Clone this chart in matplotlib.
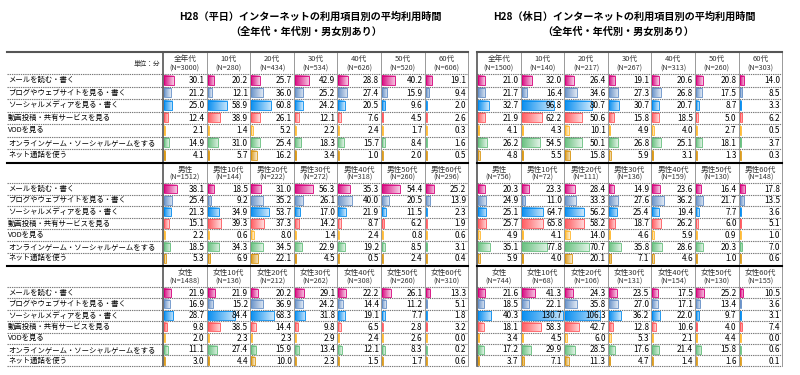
import numpy as np
import matplotlib.pyplot as plt
import matplotlib.colors as mcolors
from matplotlib.patches import Rectangle

plt.rcParams['font.family'] = ['Noto Sans CJK JP', 'DejaVu Sans']

# row labels
items = ['メールを読む・書く', 'ブログやウェブサイトを見る・書く', 'ソーシャルメディアを見る・書く',
         '動画投稿・共有サービスを見る', 'VODを見る', 'オンラインゲーム・ソーシャルゲームをする',
         'ネット通話を使う']

groups_all = ['全年代', '10代', '20代', '30代', '40代', '50代', '60代']
groups_male = ['男性', '男性10代', '男性20代', '男性30代', '男性40代', '男性50代', '男性60代']
groups_female = ['女性', '女性10代', '女性20代', '女性30代', '女性40代', '女性50代', '女性60代']

# weekday (平日) sample sizes
wd_n_all = [3000, 280, 434, 534, 626, 520, 606]
wd_n_male = [1512, 144, 222, 272, 318, 260, 296]
wd_n_female = [1488, 136, 212, 262, 308, 260, 310]
# holiday (休日) sample sizes
hd_n_all = [1500, 140, 217, 267, 313, 260, 303]
hd_n_male = [756, 72, 111, 136, 159, 130, 148]
hd_n_female = [744, 68, 106, 131, 154, 130, 155]

# minutes, rows = items, cols = groups
wd_all = [[30.1, 20.2, 25.7, 42.9, 28.8, 40.2, 19.1],
          [21.2, 12.1, 36.0, 25.2, 27.4, 15.9, 9.4],
          [25.0, 58.9, 60.8, 24.2, 20.5, 9.6, 2.0],
          [12.4, 38.9, 26.1, 12.1, 7.6, 4.5, 2.6],
          [2.1, 1.4, 5.2, 2.2, 2.4, 1.7, 0.3],
          [14.9, 31.0, 25.4, 18.3, 15.7, 8.4, 1.6],
          [4.1, 5.7, 16.2, 3.4, 1.0, 2.0, 0.5]]
wd_male = [[38.1, 18.5, 31.0, 56.3, 35.3, 54.4, 25.2],
           [25.4, 9.2, 35.2, 26.1, 40.0, 20.5, 13.9],
           [21.3, 34.9, 53.7, 17.0, 21.9, 11.5, 2.3],
           [15.1, 39.3, 37.3, 14.2, 8.7, 6.2, 1.9],
           [2.2, 0.6, 8.0, 1.4, 2.4, 0.8, 0.6],
           [18.5, 34.3, 34.5, 22.9, 19.2, 8.5, 3.1],
           [5.3, 6.9, 22.1, 4.5, 0.5, 2.4, 0.4]]
wd_female = [[21.9, 21.9, 20.2, 29.1, 22.2, 26.1, 13.3],
             [16.9, 15.2, 36.9, 24.2, 14.4, 11.2, 5.1],
             [28.7, 84.4, 68.3, 31.8, 19.1, 7.7, 1.8],
             [9.8, 38.5, 14.4, 9.8, 6.5, 2.8, 3.2],
             [2.0, 2.3, 2.3, 2.9, 2.4, 2.6, 0.0],
             [11.1, 27.4, 15.9, 13.4, 12.1, 8.3, 0.2],
             [3.0, 4.4, 10.0, 2.3, 1.5, 1.7, 0.6]]
hd_all = [[21.0, 32.0, 26.4, 19.1, 20.6, 20.8, 14.0],
          [21.7, 16.4, 34.6, 27.3, 26.8, 17.5, 8.5],
          [32.7, 96.8, 80.7, 30.7, 20.7, 8.7, 3.3],
          [21.9, 62.2, 50.6, 15.8, 18.5, 5.0, 6.2],
          [4.1, 4.3, 10.1, 4.9, 4.0, 2.7, 0.5],
          [26.2, 54.5, 50.1, 26.8, 25.1, 18.1, 3.7],
          [4.8, 5.5, 15.8, 5.9, 3.1, 1.3, 0.3]]
hd_male = [[20.3, 23.3, 28.4, 14.9, 23.6, 16.4, 17.8],
           [24.9, 11.0, 33.3, 27.6, 36.2, 21.7, 13.5],
           [25.1, 64.7, 56.2, 25.4, 19.4, 7.7, 3.6],
           [25.7, 65.8, 58.2, 18.7, 26.2, 6.0, 5.1],
           [4.9, 4.1, 14.0, 4.6, 5.9, 0.9, 1.0],
           [35.1, 77.8, 70.7, 35.8, 28.6, 20.3, 7.0],
           [5.9, 4.0, 20.1, 7.1, 4.6, 1.0, 0.6]]
hd_female = [[21.6, 41.3, 24.3, 23.5, 17.5, 25.2, 10.5],
             [18.5, 22.1, 35.8, 27.0, 17.1, 13.4, 3.6],
             [40.3, 130.7, 106.3, 36.2, 22.0, 9.7, 3.1],
             [18.1, 58.3, 42.7, 12.8, 10.6, 4.0, 7.4],
             [3.4, 4.5, 6.0, 5.3, 2.1, 4.4, 0.0],
             [17.2, 29.9, 28.5, 17.6, 21.4, 15.8, 0.6],
             [3.7, 7.1, 11.3, 4.7, 1.4, 1.6, 0.1]]

# data bar colour per item
bar_colors = ['#D6007B', '#638EC6', '#008AEF', '#FF555A', '#FFB628', '#63BE7B', '#D9950F']

fig = plt.figure(figsize=(8, 3.75), dpi=100)
ax = fig.add_axes([0, 0, 1, 1])

# layout in pixels
sec_top = [52, 163, 266]
sec_head = [22, 20, 21]
sec_row = [12.5, 11.6, 11.4]
bottom = 366
colw = 43.6
px_per_min = 0.33


def grad_bar(x0, y0, w, h, color):
    # excel-style gradient data bar: solid colour on the left fading towards white
    rgb = np.array(mcolors.to_rgb(color))
    t = np.linspace(0.05, 0.8, 64)[None, :, None]
    img = rgb * (1 - t) + t
    img = np.repeat(img, 2, axis=0)
    ax.imshow(img, extent=(x0, x0 + w, y0 + h, y0), aspect='auto',
              interpolation='bilinear', zorder=2)
    ax.add_patch(Rectangle((x0, y0), w, h, fill=False, ec=color, lw=0.6, zorder=3))


def draw_table(x_left, x_data, sections, with_labels):
    x_right = x_data + colw * 7
    for s, (groups, ns, vals) in enumerate(sections):
        top = sec_top[s]
        hh = sec_head[s]
        rh = sec_row[s]
        # header texts
        for j, g in enumerate(groups):
            cx = x_data + colw * (j + 0.5)
            ax.text(cx, top + hh * 0.33, g, ha='center', va='center', fontsize=5.5, color='#333333')
            ax.text(cx, top + hh * 0.75, '(N=%d)' % ns[j], ha='center', va='center',
                    fontsize=5.2, color='#333333')
        if with_labels and s == 0:
            ax.text(x_data - 3, top + hh * 0.55, '単位：分', ha='right', va='center',
                    fontsize=4.8, color='#333333')
        # rows
        for i in range(len(items)):
            y0 = top + hh + rh * i
            yc = y0 + rh / 2
            if with_labels:
                ax.text(x_left + 1, yc, items[i], ha='left', va='center', fontsize=5.3, color='black')
            for j in range(7):
                v = vals[i][j]
                cx0 = x_data + colw * j
                w = min(max(v * px_per_min, 1.0), colw - 2)
                grad_bar(cx0 + 1, y0 + 1.6, w, rh - 3.2, bar_colors[i])
                ax.text(cx0 + colw - 2, yc + 0.3, '%.1f' % v, ha='right', va='center',
                        fontsize=5.9, color='black', zorder=4)
            # dotted separator above each row
            ax.plot([x_left, x_right], [y0, y0], color='#777777', lw=0.8,
                    ls=(0, (1.2, 0.8)), zorder=5)
        if s > 0:
            ax.plot([x_left, x_right], [top, top], color='black', lw=1.5, zorder=6)
    # top / bottom borders
    ax.plot([x_left, x_right], [sec_top[0], sec_top[0]], color='#555555', lw=1.5, zorder=6)
    ax.plot([x_left, x_right], [bottom, bottom], color='#777777', lw=0.8,
            ls=(0, (1.2, 0.8)), zorder=5)
    # vertical lines
    for j in range(8):
        x = x_data + colw * j
        lc = '#555555' if j == 0 else '#999999'
        lw = 1.2 if j == 0 else 0.7
        ax.plot([x, x], [sec_top[0], bottom], color=lc, lw=lw, zorder=5)


draw_table(7, 163, [(groups_all, wd_n_all, wd_all),
                    (groups_male, wd_n_male, wd_male),
                    (groups_female, wd_n_female, wd_female)], True)
draw_table(477, 477, [(groups_all, hd_n_all, hd_all),
                      (groups_male, hd_n_male, hd_male),
                      (groups_female, hd_n_female, hd_female)], False)

# titles
ax.text(310, 17, 'H28（平日）インターネットの利用項目別の平均利用時間', ha='center', va='center',
        fontsize=7.3, fontweight='bold')
ax.text(306, 32, '（全年代・年代別・男女別あり）', ha='center', va='center',
        fontsize=7.3, fontweight='bold')
ax.text(624, 17, 'H28（休日）インターネットの利用項目別の平均利用時間', ha='center', va='center',
        fontsize=7.3, fontweight='bold')
ax.text(618, 32, '（全年代・年代別・男女別あり）', ha='center', va='center',
        fontsize=7.3, fontweight='bold')

ax.set_xlim(0, 800)
ax.set_ylim(375, 0)
ax.axis('off')

plt.savefig('out.png', dpi=100)
